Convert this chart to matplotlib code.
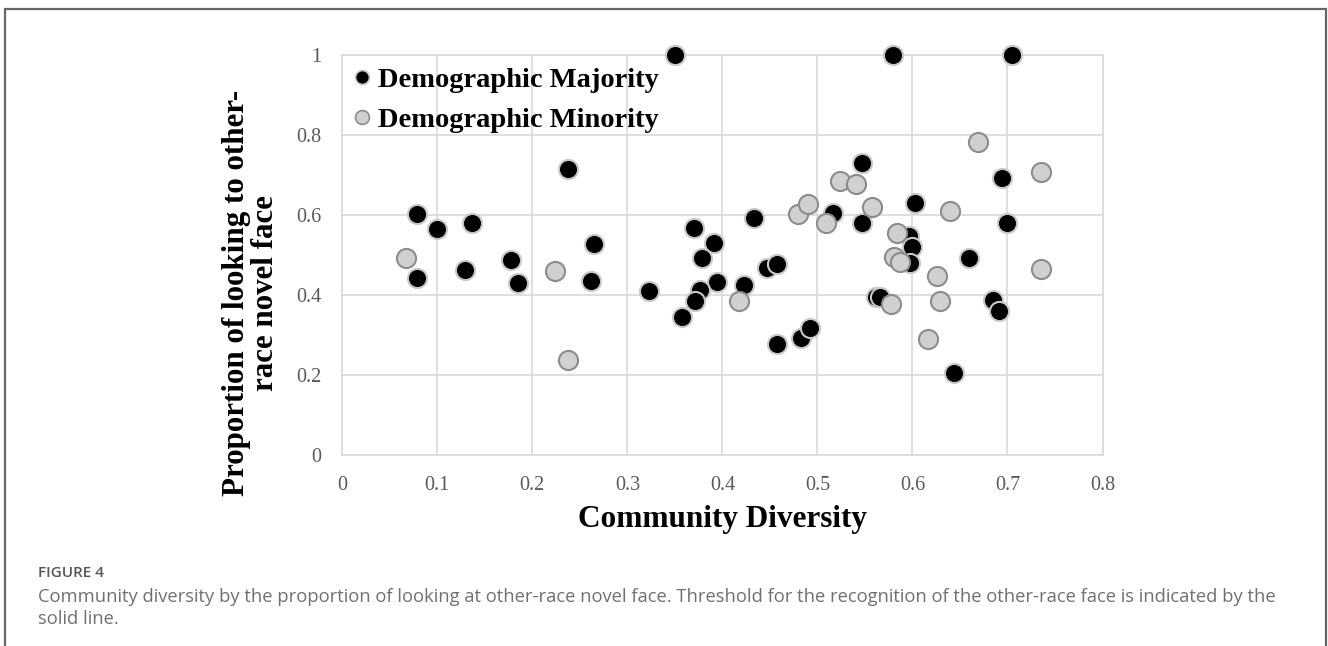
import matplotlib
matplotlib.use("Agg")
import matplotlib.pyplot as plt
from matplotlib.patches import Rectangle
from matplotlib.lines import Line2D

# ---- data ----
maj_x = [0.079, 0.100, 0.136, 0.079, 0.129, 0.178, 0.185, 0.237, 0.265, 0.262,
         0.323, 0.350, 0.370, 0.391, 0.379, 0.394, 0.376, 0.371, 0.357, 0.433,
         0.423, 0.447, 0.457, 0.457, 0.483, 0.492, 0.516, 0.547, 0.547, 0.562,
         0.566, 0.580, 0.596, 0.600, 0.597, 0.603, 0.644, 0.660, 0.685, 0.691,
         0.694, 0.699, 0.705]
maj_y = [0.601, 0.564, 0.580, 0.443, 0.462, 0.487, 0.429, 0.714, 0.526, 0.434,
         0.410, 1.000, 0.566, 0.529, 0.491, 0.433, 0.412, 0.383, 0.345, 0.593,
         0.424, 0.466, 0.477, 0.277, 0.292, 0.317, 0.605, 0.729, 0.580, 0.394,
         0.395, 1.000, 0.547, 0.520, 0.479, 0.630, 0.205, 0.491, 0.387, 0.360,
         0.691, 0.579, 1.000]
min_x = [0.067, 0.224, 0.237, 0.417, 0.480, 0.490, 0.509, 0.524, 0.541, 0.557,
         0.577, 0.581, 0.587, 0.584, 0.616, 0.626, 0.629, 0.640, 0.669, 0.735,
         0.735]
min_y = [0.493, 0.459, 0.237, 0.383, 0.601, 0.627, 0.580, 0.685, 0.676, 0.619,
         0.377, 0.494, 0.483, 0.555, 0.289, 0.447, 0.384, 0.610, 0.781, 0.706,
         0.464]
x_ticks = [0, 0.1, 0.2, 0.3, 0.4, 0.5, 0.6, 0.7, 0.8]
x_tick_labels = ["0", "0.1", "0.2", "0.3", "0.4", "0.5", "0.6", "0.7", "0.8"]
y_ticks = [0, 0.2, 0.4, 0.6, 0.8, 1.0]
y_tick_labels = ["0", "0.2", "0.4", "0.6", "0.8", "1"]
series_names = ["Demographic Majority", "Demographic Minority"]
x_title = "Community Diversity"
y_title = "Proportion of looking to other-\nrace novel face"
fig_label = "FIGURE 4"
caption = ("Community diversity by the proportion of looking at other-race novel face. "
           "Threshold for the recognition of the other-race face is indicated by the\nsolid line.")

W, H = 1328, 646
fig = plt.figure(figsize=(W / 100, H / 100), dpi=100)
serif = "Liberation Serif"

ax = fig.add_axes([342.3 / W, 1 - 454.5 / H, (1102.5 - 342.3) / W, (454.5 - 55) / H])
ax.set_xlim(0, 0.8)
ax.set_ylim(0, 1)
ax.set_xticks(x_ticks)
ax.set_xticklabels(x_tick_labels)
ax.set_yticks(y_ticks)
ax.set_yticklabels(y_tick_labels)
ax.grid(True, color="#d9d9d9", linewidth=1.2)
ax.set_axisbelow(True)
for s in ax.spines.values():
    s.set_color("#d9d9d9")
    s.set_linewidth(1.2)
ax.tick_params(length=0, labelsize=14.5, labelcolor="#595959")
ax.tick_params(axis="y", pad=15)
ax.tick_params(axis="x", pad=15.5)
for lab in ax.get_xticklabels() + ax.get_yticklabels():
    lab.set_family(serif)

ax.scatter(maj_x, maj_y, s=190, c="black", edgecolors="#c8c8c8", linewidths=1.5,
           zorder=3, clip_on=False)
ax.scatter(min_x, min_y, s=190, c="#d0d0d0", edgecolors="#8c8c8c", linewidths=1.5,
           zorder=4, clip_on=False)

handles = [
    Line2D([], [], linestyle="none", marker="o", markersize=10, markerfacecolor="black",
           markeredgecolor="#c8c8c8", markeredgewidth=1.2),
    Line2D([], [], linestyle="none", marker="o", markersize=10, markerfacecolor="#d0d0d0",
           markeredgecolor="#8c8c8c", markeredgewidth=1.2),
]
leg = ax.legend(handles, series_names, loc="upper left", bbox_to_anchor=(0.0, 0.998),
                frameon=False, handlelength=0.6, handletextpad=0.27, labelspacing=0.49,
                borderaxespad=0.0, prop={"family": serif, "weight": "bold", "size": 20.5})

fig.text(722 / W, 1 - 520 / H, x_title, ha="center", va="center", family=serif,
         weight="bold", fontsize=22.5, color="black")
fig.text(251 / W, 1 - 293 / H, y_title, ha="center", va="center", rotation=90,
         family=serif, weight="bold", fontsize=22.3, color="black", linespacing=1.0,
         multialignment="center")

fig.text(38 / W, 1 - 573 / H, fig_label, ha="left", va="center", family="Open Sans",
         weight="semibold", fontsize=11, color="#555555")
fig.text(38 / W, 1 - 608 / H, caption, ha="left", va="center", family="Open Sans",
         fontsize=13.2, color="#707070", linespacing=1.3)

frame = Rectangle((4.5 / W, -0.05), (1326 - 4.5) / W, 1 - 9 / H + 0.05,
                  transform=fig.transFigure, fill=False, edgecolor="#666666",
                  linewidth=1.6, clip_on=False)
fig.patches.append(frame)

fig.savefig("out.png", dpi=100, facecolor="white")
